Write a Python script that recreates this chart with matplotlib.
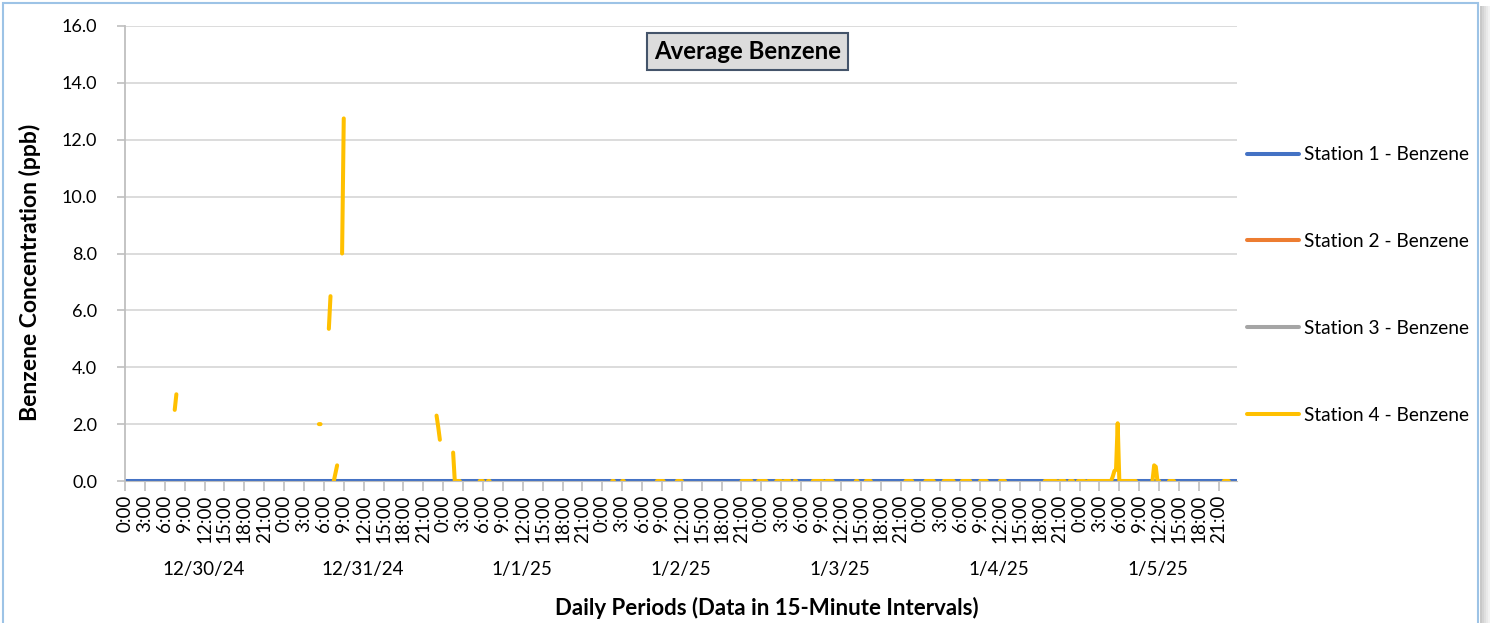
import numpy as np
import pandas as pd
import matplotlib
matplotlib.use("Agg")
import matplotlib.pyplot as plt
from matplotlib.patches import Rectangle

plt.rcParams['font.family'] = ['Lato', 'DejaVu Sans']

# 15-minute categories, 12/30/24 0:00 through 1/5/25 23:45
times = pd.date_range('2024-12-30 00:00', periods=672, freq='15min')
day_labels = ['12/30/24', '12/31/24', '1/1/25', '1/2/25', '1/3/25', '1/4/25', '1/5/25']
series_names = ['Station 1 - Benzene', 'Station 2 - Benzene',
                'Station 3 - Benzene', 'Station 4 - Benzene']
series_colors = ['#4472c4', '#ed7d31', '#a5a5a5', '#ffc000']

# station 1 reads 0.0 all week, stations 2 and 3 have no data
station1 = np.zeros(len(times))
station2 = np.full(len(times), np.nan)
station3 = np.full(len(times), np.nan)

# station 4: only short runs of valid readings (start index, values)
station4_runs = [
    (30, [2.50, 3.05]),
    (117, [2.00, 2.00]),
    (123, [5.35, 6.50]),
    (126, [0.00, 0.28, 0.55]),
    (131, [8.00, 12.75]),
    (188, [2.30, 1.90, 1.45]),
    (198, [1.00, 0.00, 0.00, 0.00, 0.00]),
    (214, [0.0, 0.0, 0.0]),
    (219, [0.0, 0.0]),
    (294, [0.0, 0.0]),
    (300, [0.0, 0.0]),
    (321, [0.0] * 5),
    (333, [0.0] * 4),
    (372, [0.0] * 7),
    (382, [0.0] * 6),
    (393, [0.0] * 4),
    (398, [0.0] * 4),
    (404, [0.0, 0.0]),
    (415, [0.0] * 7),
    (423, [0.0] * 5),
    (441, [0.0, 0.0]),
    (447, [0.0] * 4),
    (471, [0.0] * 5),
    (483, [0.0] * 6),
    (494, [0.0] * 7),
    (505, [0.0] * 6),
    (516, [0.0] * 5),
    (528, [0.0] * 4),
    (555, [0.0] * 8),
    (564, [0.0] * 4),
    (570, [0.0] * 3),
    (575, [0.0] * 5),
    (581, [0.0] * 15 + [0.15, 0.35, 0.40, 2.03] + [0.0] * 11),
    (620, [0.00, 0.55, 0.50, 0.00, 0.00]),
    (630, [0.0] * 4),
    (663, [0.0] * 4),
]
station4 = np.full(len(times), np.nan)
for start, vals in station4_runs:
    station4[start:start + len(vals)] = vals

W, H = 1490, 623
fig = plt.figure(figsize=(W / 100, H / 100), dpi=100)
ax = fig.add_axes([125 / W, 1 - 481 / H, (1237 - 125) / W, (481 - 26) / H])

x = np.arange(len(times))
for vals, name, col in zip([station1, station2, station3, station4], series_names, series_colors):
    ax.plot(x, vals, color=col, lw=2.9, label=name, solid_capstyle='round',
            solid_joinstyle='round')

ax.set_xlim(0, len(times) - 1)
ax.set_ylim(0, 16)
ax.set_yticks(np.arange(0, 16.1, 2))
ax.set_yticklabels(['%.1f' % v for v in np.arange(0, 16.1, 2)], fontsize=13)
ax.yaxis.grid(True, color='#d9d9d9', lw=1.3)
ax.set_axisbelow(True)

tick_idx = x[::12]
ax.set_xticks(tick_idx)
ax.set_xticklabels(['%d:%02d' % (times[i].hour, times[i].minute) for i in tick_idx],
                   rotation=90, fontsize=13.5)
ax.tick_params(axis='x', length=7, color='#bfbfbf', width=1.2, pad=3)
ax.tick_params(axis='y', length=6, color='#bfbfbf', width=1.2, pad=14)

for s in ['top', 'right']:
    ax.spines[s].set_visible(False)
ax.spines['left'].set_color('#bfbfbf')
ax.spines['bottom'].set_color('#bfbfbf')
ax.spines['left'].set_linewidth(1.3)

# day labels under the time ticks
for k, lab in enumerate(day_labels):
    ax.text(96 * k + 47.5, -0.195, lab, transform=ax.get_xaxis_transform(),
            ha='center', va='center', fontsize=13.5)

ax.set_xlabel('Daily Periods (Data in 15-Minute Intervals)', fontsize=16,
              fontweight='bold')
ax.xaxis.set_label_coords(0.577, -0.255)
ax.set_ylabel('Benzene Concentration (ppb)', fontsize=16.5, fontweight='bold')
ax.yaxis.set_label_coords(-0.0755, 0.458)

ax.text(0.560, 0.944, 'Average Benzene', transform=ax.transAxes, ha='center',
        va='center', fontsize=17.3, fontweight='bold',
        bbox=dict(boxstyle='square,pad=0.28', fc='#dcdcdc', ec='#44546a', lw=1.5))

fig.legend(loc='center left', bbox_to_anchor=(1230 / W, 1 - 285 / H), frameon=False,
           fontsize=13.8, handlelength=2.7, handletextpad=0.25, labelspacing=3.64)

# chart area border and shadow
fig.patches.append(Rectangle((3 / W, -0.01), 1475 / W, 1 - 3 / H + 0.01,
                             transform=fig.transFigure, fill=False,
                             ec='#9dc3e6', lw=1.5))
for j, g in enumerate(['#c8c8c8', '#d4d4d4', '#dfdfdf', '#e9e9e9', '#f2f2f2']):
    fig.patches.append(Rectangle(((1480 + 2 * j) / W, 0), 2 / W, 1 - 6 / H,
                                 transform=fig.transFigure, fc=g, ec='none'))

fig.savefig('out.png', dpi=100)
